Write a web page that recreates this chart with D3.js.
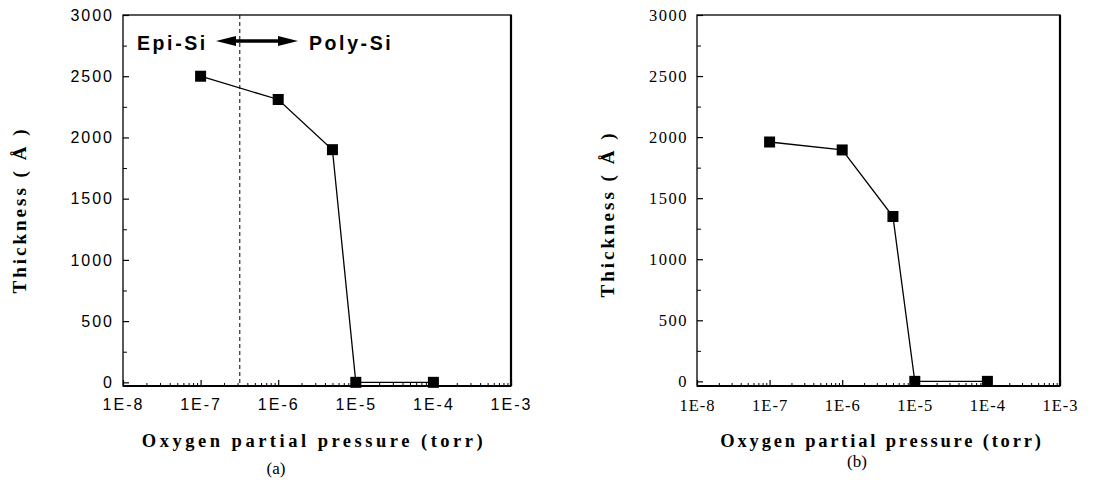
<!DOCTYPE html>
<html>
<head>
<meta charset="utf-8">
<script src="https://cdn.jsdelivr.net/npm/d3@7"></script>
<style>
  html, body { margin: 0; padding: 0; background: #fff; }
  svg { display: block; }
</style>
</head>
<body>
<svg id="chart" width="1118" height="487"></svg>
<script>
// ---- data ----
const pressure = [1e-7, 1e-6, 5e-6, 1e-5, 1e-4];
const thicknessA = [2500, 2310, 1900, 0, 0];
const thicknessB = [1960, 1895, 1350, 0, 0];
const boundaryPressure = 3.2e-7;
const xMajorTicks = [1e-8, 1e-7, 1e-6, 1e-5, 1e-4, 1e-3];
const xTickLabels = ["1E-8", "1E-7", "1E-6", "1E-5", "1E-4", "1E-3"];
const yMajorTicks = [0, 500, 1000, 1500, 2000, 2500, 3000];
const yMinorTicks = [250, 750, 1250, 1750, 2250, 2750];
const xTitle = "Oxygen partial pressure (torr)";
const yTitle = "Thickness ( Å )";
const annoLeft = "Epi-Si";
const annoRight = "Poly-Si";

const svg = d3.select("#chart");

// minor log ticks
const xMinorTicks = [];
for (let e = -8; e < -3; e++) for (let m = 2; m <= 9; m++) xMinorTicks.push(m * Math.pow(10, e));

function panel(cfg) {
  const x = d3.scaleLog().domain([1e-8, 1e-3]).range([cfg.left, cfg.right]);
  const y = d3.scaleLinear().domain([cfg.yMin, 3000]).range([cfg.bottom, cfg.top]);
  const g = svg.append("g");

  // frame
  g.append("rect").attr("x", cfg.left).attr("y", cfg.top)
    .attr("width", cfg.right - cfg.left).attr("height", cfg.bottom - cfg.top)
    .attr("fill", "none").attr("stroke", "#000").attr("stroke-width", 1.3);
  g.append("line").attr("x1", cfg.right).attr("x2", cfg.right)
    .attr("y1", cfg.top).attr("y2", cfg.bottom).attr("stroke", "#000").attr("stroke-width", 2.2);
  g.append("line").attr("x1", cfg.left).attr("x2", cfg.right)
    .attr("y1", cfg.bottom).attr("y2", cfg.bottom).attr("stroke", "#000").attr("stroke-width", 2);

  // x axis
  const xAxis = d3.axisBottom(x).tickValues(xMajorTicks)
    .tickSize(-6).tickPadding(13)
    .tickFormat((d, i) => xTickLabels[i]);
  const xg = g.append("g").attr("transform", `translate(0,${cfg.bottom})`).call(xAxis);
  xg.select(".domain").remove();
  xg.selectAll("line").attr("stroke-width", 1.2);
  xg.selectAll("text").attr("font-family", cfg.tickFont).attr("font-size", cfg.tickSize)
    .attr("letter-spacing", cfg.xls).attr("fill", "#000").attr("dy", "0.71em");
  const xMinor = d3.axisBottom(x).tickValues(xMinorTicks).tickSize(-3).tickFormat("");
  const xmg = g.append("g").attr("transform", `translate(0,${cfg.bottom})`).call(xMinor);
  xmg.select(".domain").remove();

  // y axis
  const yAxis = d3.axisLeft(y).tickValues(yMajorTicks).tickSize(-6).tickPadding(9)
    .tickFormat(d3.format("d"));
  const yg = g.append("g").attr("transform", `translate(${cfg.left},0)`).call(yAxis);
  yg.select(".domain").remove();
  yg.selectAll("line").attr("stroke-width", 1.2);
  yg.selectAll("text").attr("font-family", cfg.tickFont).attr("font-size", cfg.tickSize)
    .attr("letter-spacing", cfg.yls).attr("fill", "#000");
  const yMinor = d3.axisLeft(y).tickValues(yMinorTicks).tickSize(-4).tickFormat("");
  const ymg = g.append("g").attr("transform", `translate(${cfg.left},0)`).call(yMinor);
  ymg.select(".domain").remove();

  // y title
  g.append("text")
    .attr("transform", `translate(${cfg.yTitleX},${cfg.yTitleY}) rotate(-90)`)
    .attr("text-anchor", "middle")
    .attr("font-family", "'Liberation Serif','Times New Roman',serif")
    .attr("font-weight", "bold").attr("font-size", 19).attr("letter-spacing", 3)
    .text(yTitle);

  // x title
  g.append("text")
    .attr("x", cfg.xTitleX).attr("y", cfg.xTitleY)
    .attr("text-anchor", "middle")
    .attr("font-family", "'Liberation Serif','Times New Roman',serif")
    .attr("font-weight", "bold").attr("font-size", 18.5).attr("letter-spacing", cfg.titleLs)
    .text(xTitle);

  // caption
  g.append("text")
    .attr("x", cfg.capX).attr("y", cfg.capY)
    .attr("text-anchor", "middle")
    .attr("font-family", "'Liberation Serif','Times New Roman',serif")
    .attr("font-size", 17)
    .text(cfg.caption);

  // data line
  const pts = pressure.map((p, i) => [p, cfg.data[i]]);
  g.append("path").datum(pts)
    .attr("d", d3.line().x(d => x(d[0])).y(d => y(d[1])))
    .attr("fill", "none").attr("stroke", "#000").attr("stroke-width", 1.3);
  const ms = 11;
  g.selectAll("rect.pt").data(pts).enter().append("rect").attr("class", "pt")
    .attr("x", d => x(d[0]) - ms / 2).attr("y", d => y(d[1]) - ms / 2)
    .attr("width", ms).attr("height", ms).attr("fill", "#000");

  return { g, x, y };
}

const A = panel({
  left: 123, right: 511, top: 15, bottom: 386, yMin: -30,
  data: thicknessA,
  tickFont: "'Liberation Sans', Arial, sans-serif", tickSize: 16, xls: 2, yls: 2,
  yTitleX: 26, yTitleY: 210, xTitleX: 314, xTitleY: 447, titleLs: 3.5,
  capX: 276, capY: 474, caption: "(a)"
});

const B = panel({
  left: 697, right: 1060, top: 15, bottom: 386, yMin: -38,
  data: thicknessB,
  tickFont: "'Liberation Serif','Times New Roman',serif", tickSize: 16.5, xls: 1, yls: 1.5,
  yTitleX: 614, yTitleY: 214, xTitleX: 882, xTitleY: 447, titleLs: 2.8,
  capX: 857, capY: 467, caption: "(b)"
});

// annotation on panel (a)
const bx = A.x(boundaryPressure);
A.g.append("line").attr("x1", bx).attr("x2", bx)
  .attr("y1", A.y(3000)).attr("y2", A.y(-30))
  .attr("stroke", "#000").attr("stroke-width", 1).attr("stroke-dasharray", "4,3");

const annoY = 41;
A.g.append("text").attr("x", 137).attr("y", 50)
  .attr("font-family", "'Liberation Sans', Arial, sans-serif").attr("font-weight", "bold")
  .attr("font-size", 19.5).attr("letter-spacing", 2.6).text(annoLeft);
A.g.append("text").attr("x", 309).attr("y", 50)
  .attr("font-family", "'Liberation Sans', Arial, sans-serif").attr("font-weight", "bold")
  .attr("font-size", 19.5).attr("letter-spacing", 2.6).text(annoRight);

const ax1 = 216, ax2 = 298;
A.g.append("line").attr("x1", ax1 + 14).attr("x2", ax2 - 14).attr("y1", annoY).attr("y2", annoY)
  .attr("stroke", "#000").attr("stroke-width", 3.5);
A.g.append("path").attr("d", `M${ax1},${annoY} L${ax1 + 20},${annoY - 5} L${ax1 + 20},${annoY + 5} Z`).attr("fill", "#000");
A.g.append("path").attr("d", `M${ax2},${annoY} L${ax2 - 20},${annoY - 5} L${ax2 - 20},${annoY + 5} Z`).attr("fill", "#000");
</script>
</body>
</html>
